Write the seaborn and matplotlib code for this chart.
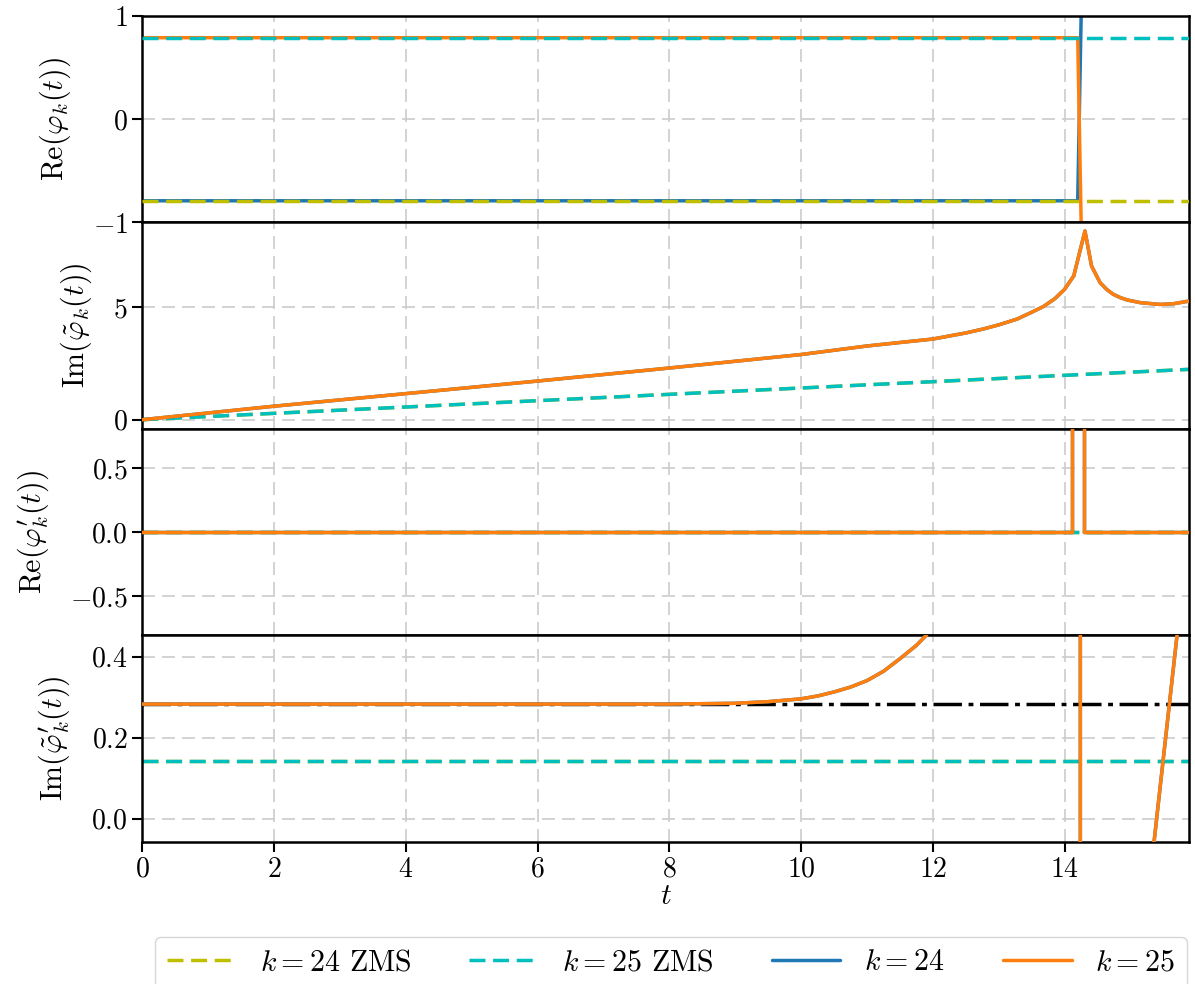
import matplotlib
matplotlib.use("Agg")
import matplotlib.pyplot as plt
import seaborn as sns
from matplotlib.lines import Line2D

# ---------------- data ----------------
T_END = 15.89

# ZMS reference lines
t_zms = [0.0, T_END]
re_zms24 = [-0.79, -0.79]
re_zms25 = [0.79, 0.79]
im_zms24 = [0.0, 2.24]
im_zms25 = [0.0, 2.24]
dre_zms24 = [0.0, 0.0]
dre_zms25 = [0.0, 0.0]
dim_zms24 = [0.1414, 0.1414]
dim_zms25 = [0.1414, 0.1414]
dim_ref = [0.283, 0.283]

# panel 1: Re(phi_k)
t_re24 = [0.0, 14.20, 14.255]
re_k24 = [-0.79, -0.79, 1.10]
t_re25 = [0.0, 14.20, 14.255]
re_k25 = [0.79, 0.79, -1.10]

# panel 2: Im(phi~_k)
t_im = [0.0, 2.0, 4.0, 6.0, 8.0, 10.0, 11.0, 12.0, 12.5, 12.77, 13.0, 13.28,
        13.5, 13.68, 13.85, 14.0, 14.14, 14.31, 14.41, 14.54, 14.64, 14.74,
        14.85, 14.95, 15.15, 15.45, 15.65, 15.89]
im_k = [0.0, 0.60, 1.16, 1.72, 2.30, 2.90, 3.28, 3.59, 3.86, 4.04, 4.22, 4.48,
        4.78, 5.04, 5.38, 5.80, 6.40, 8.40, 6.84, 6.10, 5.80, 5.58,
        5.43, 5.33, 5.21, 5.13, 5.16, 5.28]

# panel 3: Re(phi'_k)
t_dre = [0.0, 14.11, 14.11, 14.30, 14.30, 15.89]
dre_k = [0.0, 0.0, 1.2, 1.2, 0.0, 0.0]

# panel 4: Im(phi~'_k)
t_dim = [0.0, 8.0, 9.0, 9.5, 10.0, 10.25, 10.5, 10.75, 11.0, 11.25, 11.5,
         11.75, 11.9, 12.0, 14.24, 14.24, 15.33, 15.74]
dim_k = [0.283, 0.283, 0.285, 0.289, 0.296, 0.303, 0.313, 0.325, 0.341, 0.364,
         0.395, 0.428, 0.453, 0.48, 0.60, -0.20, -0.10, 0.50]

ylabels = [r"$\mathrm{Re}(\varphi_k(t))$",
           r"$\mathrm{Im}(\tilde{\varphi}_k(t))$",
           r"$\mathrm{Re}(\varphi_k^{\prime}(t))$",
           r"$\mathrm{Im}(\tilde{\varphi}_k^{\prime}(t))$"]
legend_labels = [r"$k=24$ ZMS", r"$k=25$ ZMS", r"$k=24$", r"$k=25$"]
xticks = [0, 2, 4, 6, 8, 10, 12, 14]

# ---------------- style ----------------
sns.set_theme(style="whitegrid")
plt.rcParams.update({
    "font.family": "serif",
    "font.serif": ["cmr10"],
    "mathtext.fontset": "cm",
    "axes.formatter.use_mathtext": True,
    "axes.unicode_minus": True,
    "axes.edgecolor": "black",
    "axes.linewidth": 1.8,
    "xtick.color": "black",
    "ytick.color": "black",
    "xtick.labelsize": 20,
    "ytick.labelsize": 20,
    "axes.labelsize": 21.5,
    "legend.fontsize": 21.5,
    "text.color": "black",
    "axes.labelcolor": "black",
})

C_Y = (0.75, 0.75, 0.0)
C_C = (0.0, 0.75, 0.75)
C_B = "#1f77b4"
C_O = "#ff7f0e"
LW = 2.5
DASH = (0, (4.6, 2.2))
DASHDOT = (0, (8.2, 1.9, 1.4, 1.9))

fig = plt.figure(figsize=(11.95, 9.84), dpi=100)
gs = fig.add_gridspec(4, 1, left=0.1192, right=0.995, top=0.9837, bottom=0.1446,
                      hspace=0.0)
axes = [fig.add_subplot(gs[i]) for i in range(4)]
for a in axes[1:]:
    a.sharex(axes[0])


def draw(ax, x, y, color, ls="-", z=2):
    sns.lineplot(x=x, y=y, ax=ax, estimator=None, sort=False, legend=False,
                 color=color, linestyle=ls, linewidth=LW, zorder=z)


# panel 1
ax = axes[0]
draw(ax, t_re24, re_k24, C_B, z=2)
draw(ax, t_re25, re_k25, C_O, z=2.1)
draw(ax, t_zms, re_zms24, C_Y, DASH, z=3)
draw(ax, t_zms, re_zms25, C_C, DASH, z=3)
ax.set_ylim(-1, 1)
ax.set_yticks([-1, 0, 1])

# panel 2
ax = axes[1]
draw(ax, t_zms, im_zms24, C_Y, DASH, z=2)
draw(ax, t_zms, im_zms25, C_C, DASH, z=2.1)
draw(ax, t_im, im_k, C_B, z=3)
draw(ax, t_im, im_k, C_O, z=3.1)
ax.set_ylim(-0.41, 8.78)
ax.set_yticks([0, 5])

# panel 3
ax = axes[2]
draw(ax, t_zms, dre_zms24, C_Y, DASH, z=2)
draw(ax, t_zms, dre_zms25, C_C, DASH, z=2.1)
draw(ax, t_dre, dre_k, C_B, z=3)
draw(ax, t_dre, dre_k, C_O, z=3.1)
ax.set_ylim(-0.805, 0.805)
ax.set_yticks([-0.5, 0.0, 0.5])

# panel 4
ax = axes[3]
draw(ax, t_zms, dim_ref, "black", DASHDOT, z=2)
draw(ax, t_zms, dim_zms24, C_Y, DASH, z=2.1)
draw(ax, t_zms, dim_zms25, C_C, DASH, z=2.2)
draw(ax, t_dim, dim_k, C_B, z=3)
draw(ax, t_dim, dim_k, C_O, z=3.1)
ax.set_ylim(-0.057, 0.453)
ax.set_yticks([0.0, 0.2, 0.4])

for i, ax in enumerate(axes):
    ax.set_xlim(0, T_END)
    ax.set_xticks(xticks)
    ax.grid(True, linestyle=(0, (7.8, 4.2)), color="#cccccc", linewidth=1.2)
    ax.set_ylabel(ylabels[i], labelpad=14)
    ax.tick_params(axis="both", direction="out", length=7, width=1.5,
                   left=True, bottom=(i == 3), labelbottom=(i == 3))
    for s in ax.spines.values():
        s.set_color("black")
        s.set_linewidth(1.8)
    ax.set_xlabel("")
axes[3].set_xlabel(r"$t$", labelpad=0)

handles = [Line2D([], [], color=C_Y, linestyle=DASH, linewidth=LW),
           Line2D([], [], color=C_C, linestyle=DASH, linewidth=LW),
           Line2D([], [], color=C_B, linewidth=LW),
           Line2D([], [], color=C_O, linewidth=LW)]
fig.legend(handles, legend_labels, loc="upper left", ncol=4, mode="expand",
           bbox_to_anchor=(155 / 1195, 0.0, 1032 / 1195, 0.048),
           frameon=True, fancybox=True, edgecolor="#cccccc", handlelength=2.3,
           borderaxespad=0.0)

fig.savefig("out.png", dpi=100)
